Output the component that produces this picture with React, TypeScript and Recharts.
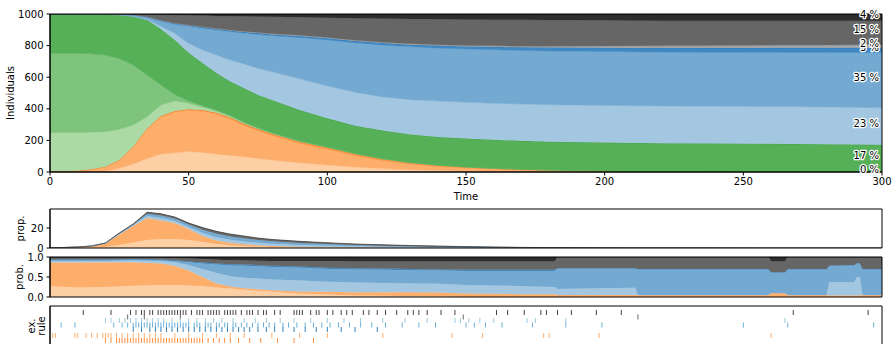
import React from 'react';
import {
  AreaChart,
  Area,
  XAxis,
  YAxis,
  ReferenceDot,
  ReferenceArea,
  ScatterChart,
  Scatter,
} from 'recharts';

const FONT = '"DejaVu Sans", Verdana, sans-serif';
const TICK = { fill: '#000', fontSize: 10, fontFamily: FONT };

// ---- main panel: individuals per state over time ----
const time = [0, 5, 10, 15, 20, 25, 30, 35, 40, 45, 50, 55, 60, 65, 70, 75, 80, 90, 100, 110, 120, 130, 140, 150, 160, 170, 180, 200, 220, 240, 260, 280, 300];
const peach = [0, 0, 0, 1, 4, 23, 51, 86, 114, 122, 129, 124, 114, 105, 97, 86, 76, 59, 44, 32, 22, 15, 10, 6, 4, 2, 1, 0, 0, 0, 0, 0, 0];
const orange = [5, 5, 8, 16, 29, 51, 106, 186, 235, 259, 263, 262, 253, 231, 198, 176, 156, 123, 101, 73, 51, 35, 25, 19, 14, 10, 7, 3, 1, 1, 0, 0, 0];
const darkOrange = [0, 0, 0, 0, 1, 2, 3, 4, 5, 5, 5, 6, 8, 9, 10, 10, 10, 10, 10, 10, 9, 8, 7, 6, 5, 5, 4, 3, 2, 1, 1, 1, 0];
const lightGreen = [245, 245, 242, 235, 221, 194, 137, 74, 70, 65, 38, 20, 10, 7, 5, 4, 3, 2, 2, 1, 1, 1, 0.5, 0.5, 0, 0, 0, 0, 0, 0, 0, 0, 0];
const midGreen = [501, 501, 501, 496, 485, 449, 380, 264, 127, 39, 15, 8, 7, 6, 5, 4, 3, 2, 1.5, 1, 1, 0.5, 0.5, 0, 0, 0, 0, 0, 0, 0, 0, 0, 0];
const green = [249, 249, 249, 252, 258, 275, 307, 348, 354, 345, 305, 270, 234, 214, 215, 208, 208, 196, 181.5, 175, 178, 178.5, 179, 180.5, 181, 180, 180, 180, 179, 178, 178, 175, 172];
const lightBlue = [0, 0, 0, 0, 0, 0, 1, 4, 17, 43, 59, 82, 115, 137, 154, 168, 179, 198, 205, 213, 213, 220, 227, 229, 231, 233, 234, 235, 236, 236, 236, 236, 234];
const blue = [0, 0, 0, 0, 1, 3, 8, 14, 33, 57, 108, 138, 157, 179, 194, 214, 227, 260, 291, 312, 328, 334, 335, 337, 338, 339, 340, 341, 340, 341, 342, 344, 350];
const darkBlue = [0, 0, 0, 0, 0, 1, 2, 3, 4, 5, 6, 7, 7, 8, 8, 9, 9, 10, 11, 12, 13, 14, 16, 17, 19, 20, 22, 24, 27, 28, 29, 30, 30];
const lightGray = [0, 0, 0, 0, 0, 0, 0, 0, 1, 2, 2, 3, 3, 3, 4, 4, 4, 5, 5, 5, 5, 6, 6, 6, 7, 7, 8, 12, 14, 15, 16, 18, 20];
const gray = [0, 0, 0, 0, 1, 2, 4, 15, 36, 52, 62, 70, 80, 88, 95, 101, 108, 115, 125, 139, 150, 157, 161, 164, 165, 167, 166, 162, 159, 158, 156, 154, 152];
const darkest = [0, 0, 0, 0, 0, 0, 1, 2, 4, 6, 8, 10, 12, 13, 15, 16, 17, 20, 23, 27, 29, 31, 33, 35, 36, 37, 38, 40, 42, 42, 42, 42, 42];

// ---- second panel: prop. ----
const propPeach = [0, 0, 0.2, 0.4, 1, 3, 5.5, 8, 9, 9, 8, 6, 4, 2.8, 2, 1.5, 1.1, 0.7, 0.4, 0.3, 0.2, 0.1, 0.05, 0, 0, 0, 0, 0, 0, 0, 0, 0, 0];
const propOrange = [0.3, 0.5, 0.8, 1.4, 3.5, 10.5, 16.5, 22, 18.5, 16, 11, 6, 3.5, 2.5, 1.8, 1.3, 1, 0.6, 0.4, 0.3, 0.2, 0.15, 0.1, 0, 0, 0, 0, 0, 0, 0, 0, 0, 0];
const propLightBlue = [0, 0, 0, 0.1, 0.2, 0.5, 0.7, 2, 2.4, 2.1, 2.1, 3, 3.2, 3, 2.8, 2.5, 2.2, 1.8, 1.5, 1.1, 0.9, 0.7, 0.55, 0.45, 0.3, 0.2, 0.12, 0.06, 0.03, 0.01, 0, 0, 0];
const propBlue = [0, 0, 0, 0.1, 0.2, 0.6, 0.8, 2.3, 2.7, 2.4, 2.4, 3.3, 3.5, 3.3, 3.1, 2.7, 2.4, 2, 1.6, 1.2, 1, 0.8, 0.65, 0.5, 0.35, 0.22, 0.15, 0.08, 0.04, 0.02, 0, 0, 0];
const propGray = [0, 0, 0, 0, 0.1, 0.3, 0.4, 1.2, 1.3, 1.1, 1.1, 1.7, 1.9, 1.8, 1.7, 1.5, 1.4, 1.2, 1, 0.8, 0.6, 0.5, 0.4, 0.3, 0.25, 0.14, 0.1, 0.05, 0.03, 0.02, 0, 0, 0];
const propDark = [0, 0, 0, 0, 0, 0.1, 0.1, 0.3, 0.4, 0.4, 0.4, 0.5, 0.6, 0.6, 0.6, 0.5, 0.5, 0.4, 0.4, 0.3, 0.3, 0.25, 0.2, 0.15, 0.1, 0.04, 0.03, 0.01, 0, 0, 0, 0, 0];

// ---- third panel: prob. ----
const probTime = [0, 10, 20, 30, 40, 45, 50, 55, 60, 65, 70, 80, 90, 100, 110, 120, 130, 140, 150, 160, 170, 182, 183, 211, 212, 259, 260, 265, 266, 280, 281, 290, 291, 292, 293, 300];
const probPeach = [0.27, 0.24, 0.25, 0.28, 0.3, 0.3, 0.29, 0.27, 0.24, 0.21, 0.18, 0.13, 0.09, 0.06, 0.04, 0.03, 0.02, 0.01, 0, 0, 0, 0, 0, 0, 0, 0, 0, 0, 0, 0, 0, 0, 0, 0, 0, 0];
const probOrange = [0.59, 0.62, 0.62, 0.59, 0.54, 0.48, 0.37, 0.23, 0.1, 0.05, 0.04, 0.04, 0.05, 0.07, 0.08, 0.09, 0.1, 0.1, 0.09, 0.08, 0.07, 0.07, 0.05, 0.05, 0.05, 0.05, 0.1, 0.1, 0.05, 0.05, 0.04, 0.04, 0.04, 0.04, 0.05, 0.05];
const probLightBlue = [0.04, 0.04, 0.03, 0.04, 0.06, 0.09, 0.14, 0.2, 0.26, 0.26, 0.26, 0.27, 0.27, 0.25, 0.24, 0.23, 0.22, 0.22, 0.21, 0.21, 0.2, 0.18, 0.15, 0.18, 0, 0, 0, 0, 0, 0, 0.33, 0.33, 0.46, 0.46, 0, 0];
const probBlue = [0.03, 0.03, 0.03, 0.03, 0.02, 0.03, 0.07, 0.14, 0.21, 0.27, 0.3, 0.31, 0.32, 0.32, 0.33, 0.33, 0.33, 0.33, 0.35, 0.36, 0.38, 0.4, 0.52, 0.49, 0.65, 0.65, 0.52, 0.52, 0.65, 0.65, 0.42, 0.43, 0.35, 0.35, 0.65, 0.65];
const probDarkBlue = [0.01, 0.01, 0.01, 0.01, 0.02, 0.02, 0.02, 0.02, 0.03, 0.03, 0.03, 0.03, 0.03, 0.03, 0.03, 0.03, 0.03, 0.03, 0.03, 0.03, 0.03, 0.03, 0, 0, 0, 0, 0, 0, 0, 0, 0, 0, 0, 0, 0, 0];
const probGray = [0.04, 0.04, 0.04, 0.04, 0.04, 0.05, 0.07, 0.09, 0.09, 0.1, 0.1, 0.12, 0.14, 0.17, 0.17, 0.18, 0.19, 0.2, 0.21, 0.21, 0.21, 0.21, 0.28, 0.28, 0.3, 0.3, 0.27, 0.27, 0.3, 0.3, 0.21, 0.2, 0.15, 0.15, 0.3, 0.3];
const probDark = [0.02, 0.02, 0.02, 0.01, 0.02, 0.03, 0.04, 0.05, 0.07, 0.08, 0.09, 0.1, 0.1, 0.1, 0.11, 0.11, 0.11, 0.11, 0.11, 0.11, 0.11, 0.11, 0, 0, 0, 0, 0.11, 0.11, 0, 0, 0, 0, 0, 0, 0, 0];

// ---- bottom panel: ex. rule events (times) ----
const evGray = [12, 22, 29, 31, 33, 34, 36, 37, 39, 40, 41, 42, 43, 44, 45, 46, 47, 48, 49, 51, 53, 54, 55, 57, 58, 59, 60, 61, 63, 64, 65, 66, 67, 69, 71, 72, 73, 75, 77, 78, 81, 83, 88, 89, 90, 91, 94, 96, 97, 100, 102, 105, 107, 109, 113, 115, 118, 121, 125, 129, 131, 133, 136, 141, 146, 161, 165, 171, 177, 179, 183, 188, 197, 206, 268, 295];
const evGrayLow = [28, 34, 47, 149, 212];
const evLightBlue = [20, 22, 25, 27, 29, 31, 33, 35, 37, 39, 41, 44, 47, 50, 53, 56, 59, 62, 66, 70, 74, 78, 83, 88, 94, 100, 106, 112, 120, 128, 136, 146, 148, 151, 155, 160, 172, 175, 186, 265];
const evBlue = [4, 9, 23, 26, 28, 30, 31, 32, 33, 34, 35, 36, 37, 38, 39, 40, 41, 42, 43, 44, 45, 46, 47, 48, 49, 50, 52, 53, 54, 56, 57, 58, 60, 61, 63, 64, 66, 67, 69, 71, 73, 75, 77, 79, 81, 84, 86, 89, 92, 95, 98, 101, 104, 108, 112, 116, 121, 127, 133, 139, 150, 153, 157, 163, 174, 186, 199, 250, 266, 297];
const evDarkBlue = [30, 33, 36, 38, 40, 42, 44, 46, 48, 50, 52, 54, 56, 58, 60, 62, 64, 66, 68, 70, 72, 75, 78, 81, 84, 88, 92, 96, 100, 105, 110, 118];
const evLightOrange = [1, 2, 9, 10, 13, 15, 17, 19, 20, 21, 22, 24, 26, 28, 30, 32, 34, 36, 38, 40, 45, 50, 55, 60, 65, 70, 80, 90, 100, 120, 145, 156, 178, 180, 198, 260];
const evOrange = [20, 22, 24, 25, 26, 27, 28, 29, 30, 31, 32, 33, 34, 35, 36, 37, 38, 39, 40, 41, 42, 43, 44, 45, 46, 47, 48, 49, 50, 51, 52, 53, 54, 55, 57, 59, 61, 63, 65, 68, 72, 76, 82, 88, 95];

const mainLayers = [
  { key: 'peach', values: peach, fill: '#fdcfa4', stroke: '#fdbd88' },
  { key: 'orange', values: orange, fill: '#fdae6b', stroke: '#fd9c4f' },
  { key: 'darkOrange', values: darkOrange, fill: '#fd8d3c', stroke: '#f07a26' },
  { key: 'lightGreen', values: lightGreen, fill: '#abdaa4', stroke: '#8fcd87' },
  { key: 'midGreen', values: midGreen, fill: '#7fc47c', stroke: '#63b460' },
  { key: 'green', values: green, fill: '#55b057', stroke: '#3f9f45' },
  { key: 'lightBlue', values: lightBlue, fill: '#a4c7e1', stroke: '#8ab6d8' },
  { key: 'blue', values: blue, fill: '#74aad1', stroke: '#5d9bc9' },
  { key: 'darkBlue', values: darkBlue, fill: '#3f88c3', stroke: '#3079b5' },
  { key: 'lightGray', values: lightGray, fill: '#a3a3a3', stroke: '#8c8c8c' },
  { key: 'gray', values: gray, fill: '#666666', stroke: '#585858' },
  { key: 'darkest', values: darkest, fill: '#2d2d2d', stroke: '#222222' },
];

const labelGroups = [
  ['peach', 'orange', 'darkOrange'],
  ['lightGreen', 'midGreen', 'green'],
  ['lightBlue'],
  ['blue'],
  ['darkBlue'],
  ['lightGray'],
  ['gray'],
  ['darkest'],
];

const propLayers = [
  { key: 'peach', values: propPeach, fill: '#fdcfa4' },
  { key: 'orange', values: propOrange, fill: '#fdae6b' },
  { key: 'lightBlue', values: propLightBlue, fill: '#a4c7e1' },
  { key: 'blue', values: propBlue, fill: '#74aad1' },
  { key: 'gray', values: propGray, fill: '#666666' },
  { key: 'dark', values: propDark, fill: '#3a3a3a' },
];

const probLayers = [
  { key: 'peach', values: probPeach, fill: '#fdcfa4' },
  { key: 'orange', values: probOrange, fill: '#fdae6b' },
  { key: 'lightBlue', values: probLightBlue, fill: '#a4c7e1' },
  { key: 'blue', values: probBlue, fill: '#74aad1' },
  { key: 'darkBlue', values: probDarkBlue, fill: '#3f88c3' },
  { key: 'gray', values: probGray, fill: '#666666' },
  { key: 'dark', values: probDark, fill: '#2d2d2d' },
];

const eventRows = [
  { times: evGray, row: 1.3, color: '#444444' },
  { times: evGrayLow, row: 2.2, color: '#666666' },
  { times: evLightBlue, row: 2.9, color: '#9ecae1' },
  { times: evBlue, row: 3.8, color: '#6baed6' },
  { times: evDarkBlue, row: 4.7, color: '#3182bd' },
  { times: evLightOrange, row: 5.9, color: '#fdae6b' },
  { times: evOrange, row: 6.9, color: '#fd8d3c' },
];

const buildRows = (ts: number[], layers: { key: string; values: number[] }[]) =>
  ts.map((t, i) => {
    const r: Record<string, number> = { t };
    layers.forEach((l) => (r[l.key] = l.values[i]));
    return r;
  });

const mainRows = buildRows(time, mainLayers);
const propRows = buildRows(time, propLayers);
const probRows = buildRows(probTime, probLayers);

const last = time.length - 1;
const total = mainLayers.reduce((s, l) => s + l.values[last], 0);
let base = 0;
const endLabels = labelGroups.map((keys) => {
  const size = mainLayers
    .filter((l) => keys.includes(l.key))
    .reduce((s, l) => s + l.values[last], 0);
  const mid = base + size / 2;
  base += size;
  return { mid, text: `${Math.round((size / total) * 100)} %` };
});

const xTicks = [0, 50, 100, 150, 200, 250, 300];

const rotated = (x: number, y: number, text: string) => (
  <text
    x={x}
    y={y}
    transform={`rotate(-90 ${x} ${y})`}
    textAnchor="middle"
    fontSize={10}
    fontFamily={FONT}
    fill="#000"
  >
    {text}
  </text>
);

const sideLabel = (lines: { x: number; text: string }[]) => ({
  content: (p: any) => {
    const vb = p.viewBox || { y: 0, height: 0 };
    const cy = vb.y + vb.height / 2;
    return <g>{lines.map((l) => <React.Fragment key={l.text}>{rotated(l.x, cy, l.text)}</React.Fragment>)}</g>;
  },
});

const endLabelContent = (text: string) => (p: any) => {
  const vb = p.viewBox;
  const cx = vb.x + vb.width / 2;
  const cy = vb.y + vb.height / 2;
  return (
    <text
      x={cx - 3}
      y={cy + 0.5}
      textAnchor="end"
      fontSize={10}
      fontFamily={FONT}
      fill="#000"
      stroke="#fff"
      strokeWidth={2.5}
      strokeLinejoin="round"
      paintOrder="stroke"
    >
      {text}
    </text>
  );
};

const tickShape = (color: string) => (p: any) => (
  <line x1={p.cx} x2={p.cx} y1={p.cy - 2.5} y2={p.cy + 2.5} stroke={color} strokeWidth={1} />
);

const box = (top: number, height: number): React.CSSProperties => ({
  position: 'absolute',
  left: 0,
  top,
  width: 896,
  height,
});

export default function App() {
  return (
    <div style={{ position: 'absolute', left: 0, top: 0, width: 896, height: 344, overflow: 'hidden', background: '#fff', fontFamily: FONT }}>
      <div style={box(0, 202)}>
        <AreaChart width={896} height={202} data={mainRows} margin={{ top: 14, right: 14, bottom: 0, left: 0 }}>
          <XAxis
            dataKey="t"
            type="number"
            domain={[0, 300]}
            ticks={xTicks}
            allowDataOverflow
            tick={TICK}
            tickSize={3.5}
            tickMargin={2}
            axisLine={{ stroke: '#000' }}
            tickLine={{ stroke: '#000' }}
            height={30}
            label={{ value: 'Time', position: 'insideBottom', offset: 2, fill: '#000', fontSize: 10, fontFamily: FONT }}
          />
          <YAxis
            type="number"
            domain={[0, 1000]}
            ticks={[0, 200, 400, 600, 800, 1000]}
            allowDataOverflow
            width={50}
            tick={TICK}
            tickSize={3.5}
            tickMargin={3}
            axisLine={{ stroke: '#000' }}
            tickLine={{ stroke: '#000' }}
            label={sideLabel([{ x: 14, text: 'Individuals' }])}
          />
          {mainLayers.map((l) => (
            <Area
              key={l.key}
              dataKey={l.key}
              stackId="s"
              type="linear"
              fill={l.fill}
              fillOpacity={1}
              stroke={l.stroke}
              strokeWidth={0.8}
              isAnimationActive={false}
            />
          ))}
          <ReferenceArea x1={0} x2={300} y1={0} y2={1000} fill="none" stroke="#000" strokeWidth={1} />
          {endLabels.map((e) => (
            <ReferenceDot
              key={e.text + e.mid}
              x={300}
              y={e.mid}
              r={1}
              fill="none"
              stroke="none"
              label={{ content: endLabelContent(e.text) }}
            />
          ))}
        </AreaChart>
      </div>

      <div style={box(200, 56)}>
        <AreaChart width={896} height={56} data={propRows} margin={{ top: 9, right: 14, bottom: 8, left: 0 }}>
          <XAxis dataKey="t" type="number" domain={[0, 300]} allowDataOverflow hide />
          <YAxis
            type="number"
            domain={[0, 39]}
            ticks={[0, 20]}
            allowDataOverflow
            width={50}
            tick={TICK}
            tickSize={3.5}
            tickMargin={3}
            axisLine={{ stroke: '#000' }}
            tickLine={{ stroke: '#000' }}
            label={sideLabel([{ x: 24, text: 'prop.' }])}
          />
          {propLayers.map((l) => (
            <Area
              key={l.key}
              dataKey={l.key}
              stackId="p"
              type="linear"
              fill={l.fill}
              fillOpacity={1}
              stroke={l.fill}
              strokeWidth={0.6}
              isAnimationActive={false}
            />
          ))}
          <ReferenceArea x1={0} x2={300} y1={0} y2={39} fill="none" stroke="#000" strokeWidth={1} />
        </AreaChart>
      </div>

      <div style={box(250, 54)}>
        <AreaChart width={896} height={54} data={probRows} margin={{ top: 7, right: 14, bottom: 7, left: 0 }}>
          <XAxis dataKey="t" type="number" domain={[0, 300]} allowDataOverflow hide />
          <YAxis
            type="number"
            domain={[0, 1]}
            ticks={[0, 0.5, 1]}
            tickFormatter={(v: number) => v.toFixed(1)}
            allowDataOverflow
            width={50}
            tick={TICK}
            tickSize={3.5}
            tickMargin={3}
            axisLine={{ stroke: '#000' }}
            tickLine={{ stroke: '#000' }}
            label={sideLabel([{ x: 23, text: 'prob.' }])}
          />
          {probLayers.map((l) => (
            <Area
              key={l.key}
              dataKey={l.key}
              stackId="q"
              type="linear"
              fill={l.fill}
              fillOpacity={1}
              stroke={l.fill}
              strokeWidth={0.6}
              isAnimationActive={false}
            />
          ))}
          <ReferenceArea x1={0} x2={300} y1={0} y2={1} fill="none" stroke="#000" strokeWidth={1} />
        </AreaChart>
      </div>

      <div style={box(300, 60)}>
        <ScatterChart width={896} height={60} margin={{ top: 6, right: 14, bottom: 14, left: 0 }}>
          <XAxis dataKey="t" type="number" domain={[0, 300]} allowDataOverflow hide />
          <YAxis
            dataKey="y"
            type="number"
            domain={[0, 8]}
            reversed
            allowDataOverflow
            width={50}
            tick={false}
            tickLine={false}
            axisLine={{ stroke: '#000' }}
            label={sideLabel([
              { x: 35, text: 'ex.' },
              { x: 45, text: 'rule' },
            ])}
          />
          {eventRows.map((r, i) => (
            <Scatter
              key={i}
              data={r.times.map((t) => ({ t, y: r.row }))}
              shape={tickShape(r.color)}
              isAnimationActive={false}
            />
          ))}
          <ReferenceArea x1={0} x2={300} y1={0} y2={8} fill="none" stroke="#000" strokeWidth={1} />
        </ScatterChart>
      </div>
    </div>
  );
}
